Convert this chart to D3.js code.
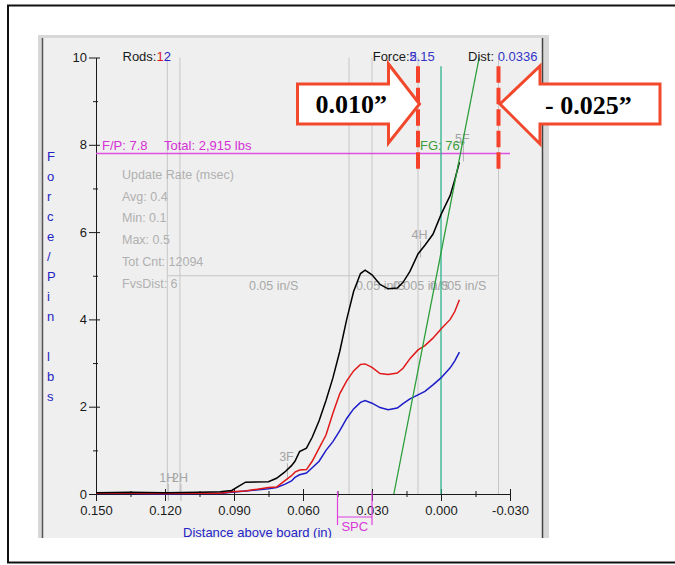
<!DOCTYPE html>
<html lang="en">
<head>
<meta charset="utf-8">
<title>Force per pin vs distance above board</title>
<script src="https://d3js.org/d3.v7.min.js"></script>
<style>
  body { margin: 0; background: #fff; }
  svg { display: block; font-family: "Liberation Sans", Arial, sans-serif; }
  .axis text { font-size: 13px; font-family: "Liberation Sans", Arial, sans-serif; }
  .info { font-size: 12.5px; fill: #b0b0b0; }
  .speed { font-size: 12.5px; fill: #a8a8a8; }
  .event { font-size: 12.5px; fill: #a4a4a4; }
  .callout { fill: #fff; stroke: #f2482c; stroke-width: 3; stroke-linejoin: miter; }
  .callout-text { font-family: "Liberation Serif", "Times New Roman", serif; font-weight: bold; font-size: 26px; fill: #000; }
</style>
</head>
<body>
<svg width="675" height="565"></svg>
<script>
// distance above board (in) and force per pin (lbs)
var distance = [0.150, 0.135, 0.120, 0.105, 0.096, 0.091, 0.085, 0.075, 0.0715, 0.068, 0.065, 0.0635, 0.0615, 0.0585, 0.056, 0.053, 0.050, 0.047, 0.044, 0.041, 0.038, 0.035, 0.033, 0.030, 0.0265, 0.023, 0.019, 0.0165, 0.0135, 0.010, 0.007, 0.0035, 0.000, -0.004, -0.006, -0.008];
var forceTotal = [0.03, 0.04, 0.03, 0.04, 0.05, 0.08, 0.27, 0.28, 0.36, 0.5, 0.65, 0.75, 0.97, 1.05, 1.3, 1.68, 2.14, 2.66, 3.27, 4.0, 4.64, 5.05, 5.13, 5.02, 4.8, 4.7, 4.72, 4.85, 5.1, 5.5, 5.7, 5.95, 6.4, 6.84, 7.2, 7.6];
var forceRod1 = [0.02, 0.02, 0.01, 0.02, 0.02, 0.05, 0.07, 0.15, 0.16, 0.3, 0.42, 0.5, 0.55, 0.56, 0.75, 1.05, 1.35, 1.85, 2.3, 2.59, 2.82, 2.97, 2.98, 2.9, 2.76, 2.74, 2.77, 2.88, 3.1, 3.3, 3.4, 3.57, 3.78, 4.0, 4.18, 4.45];
var forceRod2 = [0.01, 0.01, 0.0, 0.01, 0.01, 0.04, 0.07, 0.12, 0.15, 0.22, 0.3, 0.38, 0.44, 0.48, 0.6, 0.75, 1.0, 1.2, 1.45, 1.73, 1.95, 2.1, 2.14, 2.08, 1.98, 1.93, 1.97, 2.07, 2.18, 2.27, 2.35, 2.5, 2.66, 2.89, 3.05, 3.25];

var xMajor = [0.150, 0.120, 0.090, 0.060, 0.030, 0.000, -0.030];
var xMajorLabels = ["0.150", "0.120", "0.090", "0.060", "0.030", "0.000", "-0.030"];
var xMinor = [0.135, 0.105, 0.075, 0.045, 0.015, -0.015];
var yMajor = [0, 2, 4, 6, 8, 10];
var yMinor = [1, 3, 5, 7, 9];

var fgDist = [0.0205, -0.0166];
var fgForce = [0, 10];
var fpForce = 7.8;
var gridDist = [0.119, 0.1135, 0.040, 0.030, 0.010, -0.025];
var speedForce = 5;
var speedDist = [0.119, -0.025];
var speedLabels = ["0.05 in/S", "0.05 in/S", "0.005 in/S", "0.005 in/S"];
var speedLabelDist = [0.0835, 0.037, 0.0209, 0.0048];
var spcDist = [0.045, 0.030];
var limitDist = [0.010, -0.025];
var limitLabels = ["0.010\u201d", "- 0.025\u201d"];
var eventNames = ["1H", "2H", "3F", "4H", "5F"];
var eventDist = [0.119, 0.1135, 0.0672, 0.0093, -0.0093];
var eventForce = [0.03, 0.03, 0.5, 5.6, 7.8];
var info = ["Update Rate (msec)", "Avg: 0.4", "Min: 0.1", "Max: 0.5", "Tot Cnt: 12094", "FvsDist: 6"];
var yTitle = "Force/Pin lbs";

var svg = d3.select("svg");

// page frame
svg.append("rect").attr("x", 8).attr("y", 5.5).attr("width", 700).attr("height", 557)
    .attr("fill", "#fff").attr("stroke", "#111").attr("stroke-width", 2);

// screenshot panel
svg.append("rect").attr("x", 38).attr("y", 35).attr("width", 511).attr("height", 503).attr("fill", "#d8d8d8");
svg.append("rect").attr("x", 43).attr("y", 38).attr("width", 499).attr("height", 500).attr("fill", "#efefef");
svg.append("line").attr("x1", 42.5).attr("x2", 42.5).attr("y1", 38).attr("y2", 538).attr("stroke", "#555").attr("stroke-width", 1.5);
svg.append("line").attr("x1", 542.5).attr("x2", 542.5).attr("y1", 38).attr("y2", 538).attr("stroke", "#444").attr("stroke-width", 1.5);

svg.append("clipPath").attr("id", "panel")
  .append("rect").attr("x", 43).attr("y", 38).attr("width", 499).attr("height", 500);

var g = svg.append("g").attr("clip-path", "url(#panel)");

var x = d3.scaleLinear().domain([0.150, -0.030]).range([96, 510]);
var y = d3.scaleLinear().domain([0, 10]).range([494, 57.5]);

// light grey event / speed lines
g.selectAll(".grid").data(gridDist).enter().append("line")
    .attr("x1", function(d) { return x(d); }).attr("x2", function(d) { return x(d); })
    .attr("y1", y(10)).attr("y2", y(0))
    .attr("stroke", "#c6c6c6").attr("stroke-width", 1);
g.append("line")
    .attr("x1", x(speedDist[0])).attr("x2", x(speedDist[1]))
    .attr("y1", y(speedForce)).attr("y2", y(speedForce))
    .attr("stroke", "#c6c6c6");

g.selectAll(".speed").data(speedLabels).enter().append("text")
    .attr("class", "speed")
    .attr("x", function(d, i) { return x(speedLabelDist[i]); })
    .attr("y", y(speedForce) + 14.5)
    .text(function(d) { return d; });

g.selectAll(".info").data(info).enter().append("text")
    .attr("class", "info")
    .attr("x", 122)
    .attr("y", function(d, i) { return 179 + i * 21.7; })
    .text(function(d) { return d; });

// event markers
g.selectAll(".event").data(eventNames).enter().append("text")
    .attr("class", "event")
    .attr("x", function(d, i) { return x(eventDist[i]); })
    .attr("y", function(d, i) { return y(eventForce[i]) - 11; })
    .attr("text-anchor", "middle")
    .text(function(d) { return d; });
g.selectAll(".eventTick").data(eventNames).enter().append("line")
    .attr("x1", function(d, i) { return x(eventDist[i]) + 1; })
    .attr("x2", function(d, i) { return x(eventDist[i]) + 1; })
    .attr("y1", function(d, i) { return y(eventForce[i]) - 9; })
    .attr("y2", function(d, i) { return y(eventForce[i]) + 8; })
    .attr("stroke", "#b4b4b4");

// axes
var xAxis = g.append("g").attr("class", "axis").attr("color", "#1a1a1a")
    .attr("transform", "translate(0," + y(0) + ")")
    .call(d3.axisBottom(x).tickValues(xMajor).tickSize(7).tickSizeOuter(0).tickPadding(5)
      .tickFormat(function(d, i) { return xMajorLabels[i]; }));
xAxis.selectAll(".tick line").attr("y1", -5);
var xMin = g.append("g").attr("color", "#1a1a1a")
    .attr("transform", "translate(0," + y(0) + ")")
    .call(d3.axisBottom(x).tickValues(xMinor).tickSize(3).tickFormat(""));
xMin.select(".domain").remove();
xMin.selectAll(".tick line").attr("y1", -3);

var yAxis = g.append("g").attr("class", "axis").attr("color", "#1a1a1a")
    .attr("transform", "translate(" + x(0.150) + ",0)")
    .call(d3.axisLeft(y).tickValues(yMajor).tickSize(7).tickSizeOuter(0).tickPadding(2));
yAxis.selectAll(".tick line").attr("x1", 4);
var yMin = g.append("g").attr("color", "#1a1a1a")
    .attr("transform", "translate(" + x(0.150) + ",0)")
    .call(d3.axisLeft(y).tickValues(yMinor).tickSize(3).tickFormat(""));
yMin.select(".domain").remove();
yMin.selectAll(".tick line").attr("x1", 2);

// axis titles
var yt = g.append("text").attr("fill", "#2424c4").attr("font-size", 13);
yt.selectAll("tspan").data(yTitle.split("")).enter().append("tspan")
    .attr("x", 47)
    .attr("y", function(d, i) { return 160.5 + i * 20; })
    .text(function(d) { return d; });

g.append("text").attr("x", 183).attr("y", 537).attr("fill", "#2424c4").attr("font-size", 13)
    .text("Distance above board (in)");

// SPC bracket
var spc = g.append("g").attr("stroke", "#e040e0").attr("stroke-width", 1.2);
spc.selectAll("line.v").data(spcDist).enter().append("line")
    .attr("x1", function(d) { return x(d); }).attr("x2", function(d) { return x(d); })
    .attr("y1", y(0) - 2.5).attr("y2", y(0) + 31);
spc.append("line").attr("x1", x(spcDist[0])).attr("x2", x(spcDist[1]))
    .attr("y1", y(0) + 23).attr("y2", y(0) + 23);
g.append("text").attr("x", (x(spcDist[0]) + x(spcDist[1])) / 2).attr("y", y(0) + 36.5)
    .attr("text-anchor", "middle").attr("fill", "#d838d8").attr("font-size", 13).text("SPC");

// F/P limit line
g.append("line").attr("x1", x(0.150)).attr("x2", x(-0.030))
    .attr("y1", y(fpForce)).attr("y2", y(fpForce))
    .attr("stroke", "#e050e0").attr("stroke-width", 1.5);
g.append("text").attr("x", 102).attr("y", 149.5).attr("fill", "#d530d5").attr("font-size", 13).text("F/P: 7.8");
g.append("text").attr("x", 164).attr("y", 149.5).attr("fill", "#d530d5").attr("font-size", 13).text("Total: 2,915 lbs");

// zero-distance line
g.append("line").attr("x1", x(0)).attr("x2", x(0))
    .attr("y1", y(9.8)).attr("y2", y(0))
    .attr("stroke", "#2fb38c").attr("stroke-width", 1.3);

// force curves
function curve(vals) {
  return d3.line()
    .x(function(d, i) { return x(distance[i]); })
    .y(function(d) { return y(d); })(vals);
}
g.append("path").attr("d", curve(forceRod2)).attr("fill", "none").attr("stroke", "#1c1cc8").attr("stroke-width", 1.5);
g.append("path").attr("d", curve(forceRod1)).attr("fill", "none").attr("stroke", "#e01818").attr("stroke-width", 1.5);
g.append("path").attr("d", curve(forceTotal)).attr("fill", "none").attr("stroke", "#000").attr("stroke-width", 1.5);

// force gradient line
g.append("path")
    .attr("d", d3.line().x(function(d, i) { return x(fgDist[i]); }).y(function(d) { return y(d); })(fgForce))
    .attr("fill", "none").attr("stroke", "#2a9e3a").attr("stroke-width", 1.3);
g.append("text").attr("x", 420).attr("y", 149.5).attr("fill", "#3c9c3c").attr("font-size", 13).text("FG: 76\u00b0");

// readouts at the top
var rods = g.append("text").attr("x", 122.5).attr("y", 61).attr("fill", "#1a1a1a").attr("font-size", 13).text("Rods:");
rods.append("tspan").attr("fill", "#e01818").text("1");
rods.append("tspan").attr("fill", "#2424c4").text("2");
var force = g.append("text").attr("x", 372.7).attr("y", 61).attr("fill", "#1a1a1a").attr("font-size", 13).text("Force:");
force.append("tspan").attr("fill", "#3434c8").text("5.15");
g.append("text").attr("x", 409.5).attr("y", 61).attr("fill", "#3434c8").attr("font-size", 13).text("2");
var dist = g.append("text").attr("x", 468).attr("y", 61).attr("fill", "#1a1a1a").attr("font-size", 13).text("Dist: ");
dist.append("tspan").attr("fill", "#3434c8").text("0.0336");

// callout limits
svg.selectAll(".limit").data(limitDist).enter().append("line")
    .attr("x1", function(d) { return x(d); }).attr("x2", function(d) { return x(d); })
    .attr("y1", y(9.8)).attr("y2", y(7.4))
    .attr("stroke", "#f5412a").attr("stroke-width", 4)
    .attr("stroke-dasharray", "16.5,5");

var tipL = x(limitDist[0]) + 1.5, tipR = x(limitDist[1]) + 1.5, cy = 104;
svg.append("path").attr("class", "callout")
    .attr("d", "M" + (tipL - 122) + "," + (cy - 20) + "H" + (tipL - 31) + "V" + (cy - 40) +
      "L" + tipL + "," + cy + "L" + (tipL - 31) + "," + (cy + 39) + "V" + (cy + 20) + "H" + (tipL - 122) + "Z");
svg.append("path").attr("class", "callout")
    .attr("d", "M" + (tipR + 160) + "," + (cy - 20) + "H" + (tipR + 40) + "V" + (cy - 38) +
      "L" + tipR + "," + cy + "L" + (tipR + 40) + "," + (cy + 40) + "V" + (cy + 20) + "H" + (tipR + 160) + "Z");
svg.append("text").attr("class", "callout-text").attr("x", tipL - 104).attr("y", cy + 9).text(limitLabels[0]);
svg.append("text").attr("class", "callout-text").attr("x", tipR + 45).attr("y", cy + 10).text(limitLabels[1]);
</script>
</body>
</html>
